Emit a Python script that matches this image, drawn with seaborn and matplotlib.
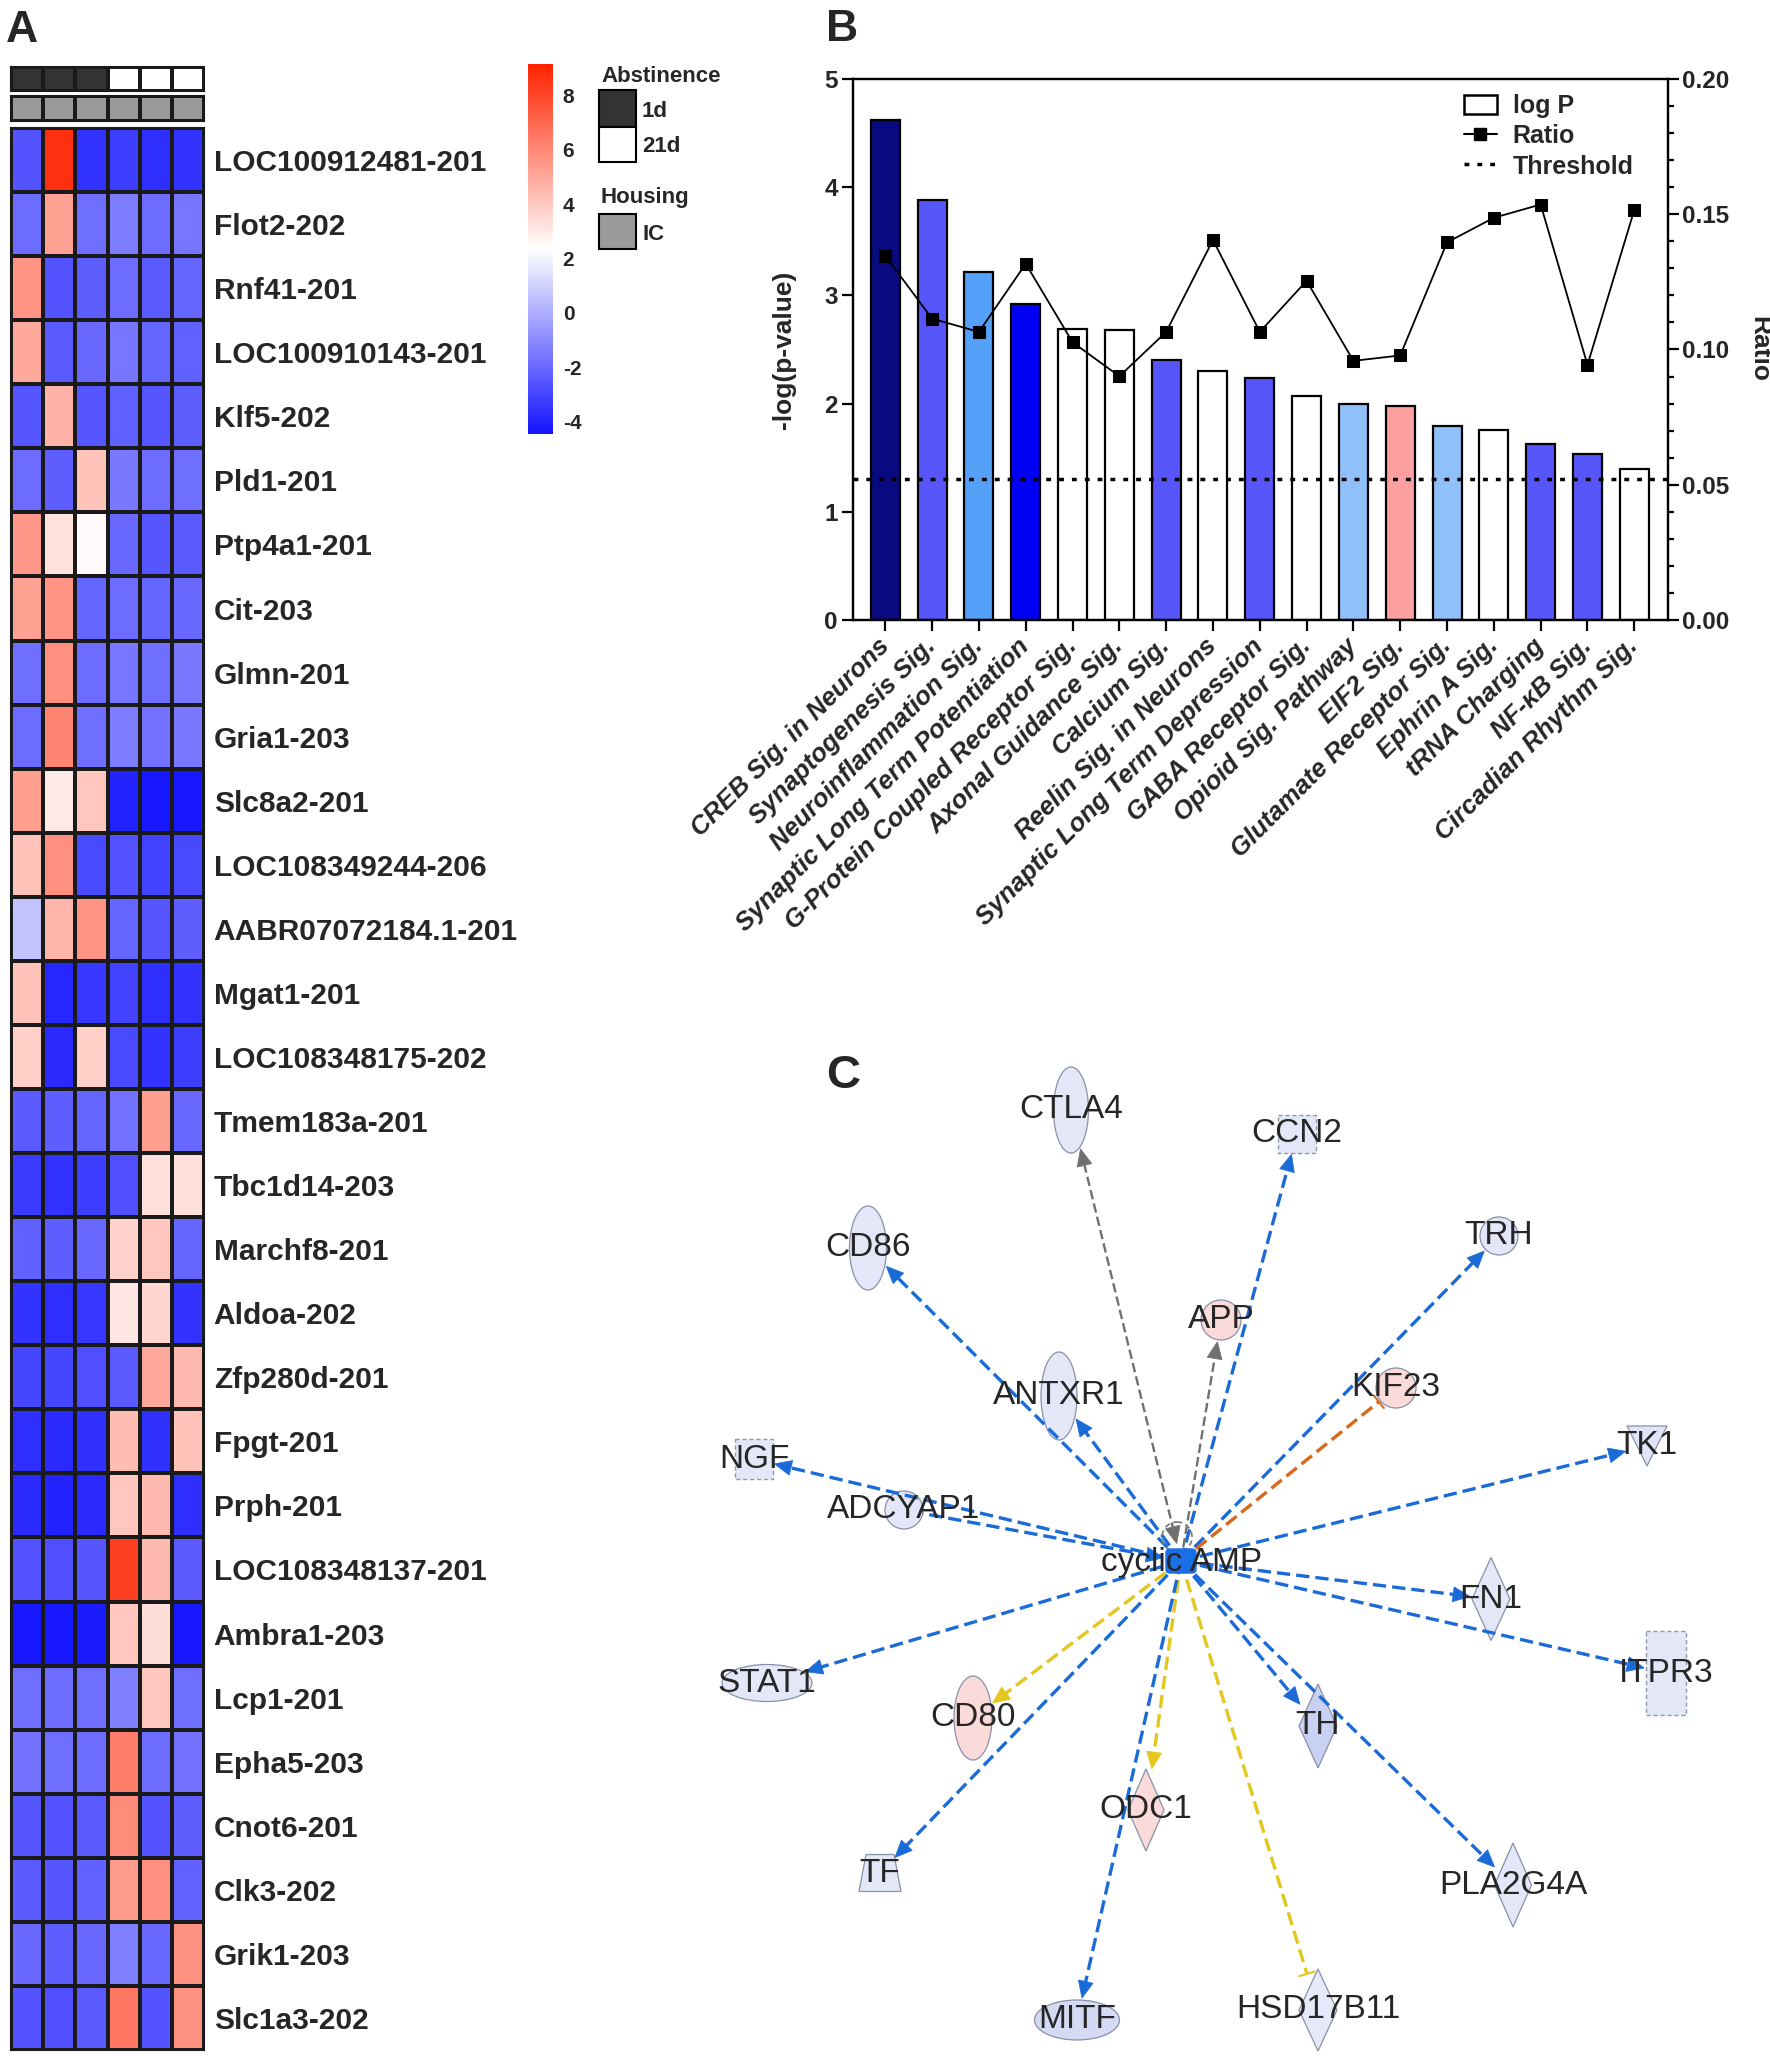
import numpy as np
import pandas as pd
import matplotlib
matplotlib.use("Agg")
import matplotlib.pyplot as plt
import seaborn as sns
from matplotlib.colors import LinearSegmentedColormap, ListedColormap
from matplotlib import patches
from matplotlib.lines import Line2D
from matplotlib.ticker import MultipleLocator, FormatStrFormatter


# ---- panel A data
genes = ["LOC100912481-201", "Flot2-202", "Rnf41-201", "LOC100910143-201", "Klf5-202",
         "Pld1-201", "Ptp4a1-201", "Cit-203", "Glmn-201", "Gria1-203", "Slc8a2-201",
         "LOC108349244-206", "AABR07072184.1-201", "Mgat1-201", "LOC108348175-202",
         "Tmem183a-201", "Tbc1d14-203", "Marchf8-201", "Aldoa-202", "Zfp280d-201",
         "Fpgt-201", "Prph-201", "LOC108348137-201", "Ambra1-203", "Lcp1-201",
         "Epha5-203", "Cnot6-201", "Clk3-202", "Grik1-203", "Slc1a3-202"]
expr = [
    [-2.6, 8.7, -3.5, -3.2, -3.7, -3.5],
    [-1.9, 5.2, -1.8, -1.4, -1.9, -1.6],
    [5.6, -2.6, -2.3, -1.9, -2.4, -2.1],
    [5.0, -2.4, -2.0, -1.6, -2.1, -2.2],
    [-2.5, 4.7, -2.5, -2.2, -2.5, -2.3],
    [-1.9, -2.3, 4.2, -1.5, -1.9, -1.8],
    [5.5, 3.2, 2.5, -2.0, -2.5, -2.4],
    [5.2, 5.6, -2.1, -1.9, -2.1, -2.0],
    [-1.8, 5.8, -1.9, -1.6, -1.8, -1.5],
    [-1.9, 6.1, -1.8, -1.4, -1.7, -1.5],
    [5.3, 3.0, 4.1, -4.0, -4.3, -4.3],
    [4.2, 5.8, -2.9, -2.6, -3.1, -2.9],
    [0.6, 4.6, 5.6, -2.1, -2.5, -2.3],
    [4.2, -3.9, -3.4, -3.1, -3.7, -3.5],
    [3.8, -3.8, 3.8, -2.9, -3.5, -3.2],
    [-2.4, -2.3, -2.1, -1.7, 5.3, -2.0],
    [-3.3, -3.5, -3.2, -2.7, 3.3, 3.3],
    [-2.2, -2.3, -2.0, 3.7, 4.1, -2.1],
    [-3.5, -3.7, -3.4, 3.1, 3.6, -3.5],
    [-3.0, -3.0, -2.7, -2.4, 5.0, 4.5],
    [-3.7, -3.8, -3.6, 4.4, -3.6, 4.2],
    [-3.8, -4.0, -3.8, 4.1, 4.5, -3.7],
    [-2.6, -2.7, -2.5, 8.2, 4.5, -2.4],
    [-4.3, -4.3, -4.2, 4.1, 3.4, -4.3],
    [-1.8, -1.9, -1.8, -1.3, 4.1, -1.8],
    [-1.7, -1.8, -1.9, 6.3, -1.9, -1.7],
    [-2.5, -2.6, -2.4, 5.9, -2.6, -2.3],
    [-2.4, -2.5, -2.2, 5.4, 5.8, -2.2],
    [-2.0, -2.3, -2.0, -1.3, -2.0, 5.7],
    [-2.6, -2.7, -2.4, 6.5, -2.6, 5.7],
]
abstinence = ["1d", "1d", "1d", "21d", "21d", "21d"]
housing = ["IC", "IC", "IC", "IC", "IC", "IC"]
cbar_ticks = [-4, -2, 0, 2, 4, 6, 8]

# ---- panel B data
pathways = ["CREB Sig. in Neurons", "Synaptogenesis Sig.", "Neuroinflammation Sig.",
            "Synaptic Long Term Potentiation", "G-Protein Coupled Receptor Sig.",
            "Axonal Guidance Sig.", "Calcium Sig.", "Reelin Sig. in Neurons",
            "Synaptic Long Term Depression", "GABA Receptor Sig.", "Opioid Sig. Pathway",
            "EIF2 Sig.", "Glutamate Receptor Sig.", "Ephrin A Sig.", "tRNA Charging",
            "NF-κB Sig.", "Circadian Rhythm Sig."]
logp = [4.62, 3.88, 3.22, 2.92, 2.69, 2.68, 2.40, 2.30, 2.24, 2.07, 2.00, 1.98,
        1.79, 1.76, 1.63, 1.53, 1.40]
ratio = [0.1346, 0.1114, 0.1065, 0.1317, 0.1027, 0.0901, 0.1065, 0.1405, 0.1065,
         0.1254, 0.0958, 0.0978, 0.1396, 0.1487, 0.1536, 0.0943, 0.1516]
bar_colors = ["#0A0A80", "#5656FA", "#55A0F8", "#0000F5", "#FFFFFF", "#FFFFFF",
              "#5656FA", "#FFFFFF", "#5656FA", "#FFFFFF", "#90C0FA", "#FFA0A0",
              "#90C0FA", "#FFFFFF", "#5656FA", "#5656FA", "#FFFFFF"]
threshold = 1.3

# ---- panel C data (network layout, in pixels of the figure)
hub = ("cyclic AMP", 1181, 1561)
node_names = ["CTLA4", "CCN2", "CD86", "TRH", "APP", "KIF23", "ANTXR1", "NGF", "TK1",
              "ADCYAP1", "FN1", "STAT1", "ITPR3", "CD80", "TH", "ODC1", "TF",
              "PLA2G4A", "MITF", "HSD17B11"]
node_x = [1071, 1297, 868, 1499, 1221, 1396, 1059, 754, 1647, 904, 1491, 767, 1666,
          973, 1318, 1146, 880, 1513, 1077, 1318]
node_y = [1110, 1134, 1248, 1236, 1320, 1388, 1396, 1459, 1446, 1510, 1599, 1683,
          1673, 1718, 1726, 1810, 1873, 1885, 2020, 2010]
node_shape = ["vellipse", "dashbox", "vellipse", "circle", "circle", "circle",
              "vellipse", "dashbox", "tri", "circle", "diamond", "hellipse", "dashbox",
              "vellipse", "diamond", "diamond", "trap", "diamond", "hellipse", "diamond"]
node_w = [35, 38, 37, 38, 40, 40, 36, 38, 40, 38, 38, 90, 40, 38, 38, 36, 42, 37, 85, 38]
node_h = [86, 38, 84, 38, 40, 40, 88, 40, 40, 38, 83, 37, 84, 84, 84, 82, 37, 84, 40, 82]
node_fill = ["#E3E7F8", "#E3E7F8", "#E3E7F8", "#E3E7F8", "#FBDADA", "#FBDADA",
             "#E3E7F8", "#E3E7F8", "#E0E4F6", "#E3E7F8", "#E3E7F8", "#E3E7F8",
             "#E3E7F8", "#FBDADA", "#C9D1F2", "#FBDADA", "#E3E7F8", "#E3E7F8",
             "#D4DAF4", "#E6E9F9"]
edge_kind = ["both", "out", "out", "out", "out", "bar", "out", "out", "out", "in",
             "out", "out", "out", "out", "out", "out", "out", "out", "out", "bar"]
edge_col = ["gray", "blue", "blue", "blue", "gray", "orange", "blue", "blue", "blue",
            "blue", "blue", "blue", "blue", "yellow", "blue", "yellow", "blue", "blue",
            "blue", "yellow"]
palette_c = {"blue": "#1A6BD8", "gray": "#707070", "orange": "#D8681A", "yellow": "#E3C61E"}


sns.set_theme(style="white")
plt.rcParams['font.family'] = ['Liberation Sans', 'DejaVu Sans']
plt.rcParams['axes.unicode_minus'] = False

W, H = 1770, 2059
fig = plt.figure(figsize=(W / 100, H / 100), dpi=100)


def box(x0, y0, x1, y1):
    return [x0 / W, 1 - y1 / H, (x1 - x0) / W, (y1 - y0) / H]


# =========== A: heatmap
cmap = LinearSegmentedColormap.from_list("bw_r", [(0, "#1414FF"), (0.5, "#FFFFFF"), (1, "#FF2200")])
ax_a = fig.add_axes(box(11, 128, 204, 2050))
cax = fig.add_axes(box(528, 64, 553, 434))
df = pd.DataFrame(expr, index=genes)
sns.heatmap(df, ax=ax_a, cmap=cmap, vmin=-4.45, vmax=9.15, linewidths=1.5,
            linecolor="#1a1a1a", cbar_ax=cax, xticklabels=False, yticklabels=True)
ax_a.tick_params(axis='y', left=False, labelleft=False, right=False, labelright=True, pad=1)
ax_a.set_yticklabels(genes, rotation=0, fontsize=21.5, fontweight='bold')
ax_a.set_ylabel("")
for s in ax_a.spines.values():
    s.set_visible(True)
    s.set_linewidth(1.5)
    s.set_color("#1a1a1a")

cbar = ax_a.collections[0].colorbar
cbar.outline.set_visible(False)
cbar.set_ticks(cbar_ticks)
cax.tick_params(length=0, pad=7, labelsize=15)
for t in cax.get_yticklabels():
    t.set_fontweight('bold')

for (y0, y1, codes, cols) in [(66.7, 90.7, [0 if a == "1d" else 1 for a in abstinence], ["#333333", "#FFFFFF"]),
                              (96, 120.7, [0 for h in housing], ["#9A9A9A", "#9A9A9A"])]:
    axt = fig.add_axes(box(11, y0, 204, y1))
    sns.heatmap(np.array([codes]), ax=axt, cmap=ListedColormap(cols), vmin=0, vmax=1,
                cbar=False, linewidths=1.5, linecolor="#1a1a1a",
                xticklabels=False, yticklabels=False)
    for s in axt.spines.values():
        s.set_visible(True)
        s.set_linewidth(1.5)
        s.set_color("#1a1a1a")

# =========== B: bar chart
ax_b = fig.add_axes(box(853, 79, 1668, 620))
sns.barplot(x=pathways, y=logp, hue=pathways, palette=bar_colors, legend=False,
            saturation=1, edgecolor="black", linewidth=1.6, width=0.62, ax=ax_b)
ax_b.axhline(threshold, color="black", lw=2.5, ls=(0, (1.4, 2.3)), zorder=5)
ax_b.set_xlim(-0.69, 16.72)
ax_b.set_ylim(0, 5)
ax_b.set_yticks(range(6))
ax_b.set_xticks(range(len(pathways)))
ax_b.set_xticklabels(pathways, rotation=45, ha='right', va='center', rotation_mode='anchor',
                     fontsize=18.5, fontweight='bold', fontstyle='italic')
ax_b.tick_params(axis='x', bottom=True, length=8, width=1.6, color='black', pad=8)
ax_b.tick_params(axis='y', left=True, length=8, width=1.6, color='black', labelsize=17.5, pad=3)
for t in ax_b.get_yticklabels():
    t.set_fontweight('bold')
for s in ax_b.spines.values():
    s.set_linewidth(1.6)
    s.set_color("black")
ax_b.set_ylabel("-log(p-value)", fontsize=19, fontweight='bold')
ax_b.yaxis.set_label_coords(-0.07, 0.5)

ax_r = ax_b.twinx()
sns.lineplot(x=list(range(len(ratio))), y=ratio, ax=ax_r, color="black", lw=1.3,
             marker='s', markersize=9, markeredgecolor="black")
ax_r.set_ylim(0, 0.2)
ax_r.set_yticks([0, 0.05, 0.10, 0.15, 0.20])
ax_r.yaxis.set_major_formatter(FormatStrFormatter('%.2f'))
ax_r.yaxis.set_minor_locator(MultipleLocator(0.01))
ax_r.tick_params(axis='y', which='major', right=True, length=8, width=1.6, color='black',
                 labelsize=17.5, pad=2)
ax_r.tick_params(axis='y', which='minor', right=True, length=4.5, width=1.6, color='black')
for t in ax_r.get_yticklabels():
    t.set_fontweight('bold')
for s in ax_r.spines.values():
    s.set_linewidth(1.6)
    s.set_color("black")
ax_r.set_ylabel("Ratio", fontsize=19, fontweight='bold', rotation=270)
ax_r.yaxis.set_label_coords(1.127, 0.5)

handles = [patches.Patch(facecolor="white", edgecolor="black", lw=1.8, label="log P"),
           Line2D([], [], color="black", lw=1.5, marker='s', markersize=8, label="Ratio"),
           Line2D([], [], color="black", lw=2.5, ls=(0, (1.4, 2.3)), label="Threshold")]
leg = ax_r.legend(handles=handles, loc='upper left', bbox_to_anchor=(1464 / W, 1 - 94 / H),
                  bbox_transform=fig.transFigure, frameon=False, borderpad=0, borderaxespad=0,
                  handlelength=1.3, handleheight=0.8, handletextpad=0.65, labelspacing=0.25,
                  prop={'size': 18, 'weight': 'bold'})

# =========== overlay: letters, annotation legend, network
ax_o = fig.add_axes([0, 0, 1, 1])
ax_o.set_xlim(0, W)
ax_o.set_ylim(H, 0)
ax_o.axis('off')
ax_o.patch.set_alpha(0)

ax_o.text(6, 42, "A", fontsize=32, fontweight='bold', va='baseline', ha='left')
ax_o.text(826, 41, "B", fontsize=32, fontweight='bold', va='baseline', ha='left')
ax_o.text(826, 1088, "C", fontsize=34, fontweight='bold', va='baseline', ha='left')

ax_o.text(601, 82, "Abstinence", fontsize=16, fontweight='bold', va='baseline')
ax_o.add_patch(patches.Rectangle((599, 90), 37, 36.5, facecolor="#333333", edgecolor="black", lw=1.5))
ax_o.add_patch(patches.Rectangle((599, 126.5), 37, 35, facecolor="white", edgecolor="black", lw=1.5))
ax_o.text(642, 117, "1d", fontsize=16, fontweight='bold', va='baseline')
ax_o.text(642, 152, "21d", fontsize=16, fontweight='bold', va='baseline')
ax_o.text(601, 203, "Housing", fontsize=16, fontweight='bold', va='baseline')
ax_o.add_patch(patches.Rectangle((599, 214), 37, 35, facecolor="#9A9A9A", edgecolor="black", lw=1.5))
ax_o.text(642, 240, "IC", fontsize=16, fontweight='bold', va='baseline')


def node_patch(shape, x, y, w, h, fc):
    ec = "#8A90A8"
    if shape == "vellipse" or shape == "hellipse" or shape == "circle":
        return patches.Ellipse((x, y), w, h, facecolor=fc, edgecolor=ec, lw=0.9)
    if shape == "dashbox":
        return patches.Rectangle((x - w / 2, y - h / 2), w, h, facecolor=fc, edgecolor="#9098AA",
                                 lw=1.0, ls=(0, (3, 2)))
    if shape == "diamond":
        pts = [(x, y - h / 2), (x + w / 2, y), (x, y + h / 2), (x - w / 2, y)]
    elif shape == "tri":
        pts = [(x - w / 2, y - h / 2), (x + w / 2, y - h / 2), (x, y + h / 2)]
    else:
        pts = [(x - w / 3, y - h / 2), (x + w / 3, y - h / 2), (x + w / 2, y + h / 2), (x - w / 2, y + h / 2)]
    return patches.Polygon(pts, closed=True, facecolor=fc, edgecolor=ec, lw=0.9)


def head(tip, u, col):
    L, hw = 17, 7.5
    bx, by = tip[0] - u[0] * L, tip[1] - u[1] * L
    pts = [tip, (bx - u[1] * hw, by + u[0] * hw), (bx + u[1] * hw, by - u[0] * hw)]
    ax_o.add_patch(patches.Polygon(pts, closed=True, facecolor=col, edgecolor=col, lw=0.5, zorder=3))


hx, hy = hub[1], hub[2]
for i, name in enumerate(node_names):
    x, y, w, h = node_x[i], node_y[i], node_w[i], node_h[i]
    ax_o.add_patch(node_patch(node_shape[i], x, y, w, h, node_fill[i]))
    dx, dy = x - hx, y - hy
    d = np.hypot(dx, dy)
    u = (dx / d, dy / d)
    r = 1 / np.sqrt((u[0] / (w / 2)) ** 2 + (u[1] / (h / 2)) ** 2)
    tip = (x - u[0] * (r + 2), y - u[1] * (r + 2))
    col = palette_c[edge_col[i]]
    lw = 1.7 if edge_col[i] == "gray" else 2.4
    kind = edge_kind[i]
    start = (hx, hy)
    end = tip
    if kind in ("out", "both"):
        end = (tip[0] - u[0] * 12, tip[1] - u[1] * 12)
        head(tip, u, col)
    if kind in ("in", "both"):
        ctip = (hx + u[0] * 18, hy + u[1] * 18)
        start = (ctip[0] + u[0] * 12, ctip[1] + u[1] * 12)
        head(ctip, (-u[0], -u[1]), col)
        if kind == "in":
            end = (x - u[0] * r, y - u[1] * r)
    ax_o.plot([start[0], end[0]], [start[1], end[1]], color=col, lw=lw,
              ls=(0, (4, 1.8)), zorder=2, solid_capstyle='butt', dash_capstyle='butt')
    if kind == "bar":
        ax_o.plot([tip[0] - u[1] * 8, tip[0] + u[1] * 8], [tip[1] + u[0] * 8, tip[1] - u[0] * 8],
                  color=col, lw=1.5, zorder=2)
    ax_o.text(x, y, name, fontsize=24, ha='center', va='center', zorder=4)

ax_o.add_patch(patches.Circle((hx - 4, hy - 24), 15, facecolor='none', edgecolor="#808080",
                              lw=1.3, ls=(0, (3, 2)), zorder=2))
ax_o.add_patch(patches.FancyBboxPatch((hx - 15, hy - 12), 30, 24,
                                      boxstyle="round,pad=0,rounding_size=4",
                                      facecolor="#1B6FE6", edgecolor="#1B6FE6", zorder=3))
ax_o.text(hx + 1, hy + 1, hub[0], fontsize=24, ha='center', va='center', zorder=4)

fig.savefig("out.png", dpi=100)
